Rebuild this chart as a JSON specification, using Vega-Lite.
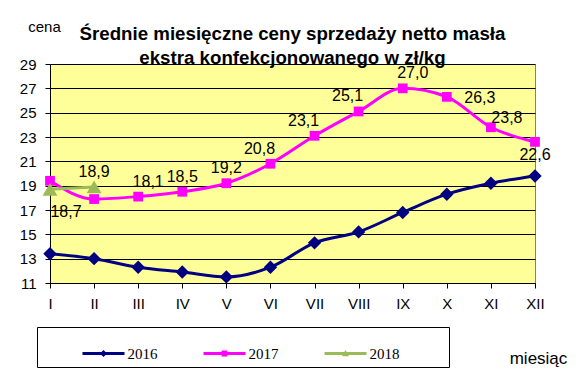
{
  "$schema": "https://vega.github.io/schema/vega-lite/v6.json",
  "width": 485,
  "height": 219,
  "autosize": {"type": "none"},
  "padding": {"left": 50, "top": 64, "right": 45, "bottom": 92},
  "background": "white",
  "title": {
    "text": ["Średnie miesięczne ceny sprzedaży netto masła", "ekstra konfekcjonowanego w zł/kg"],
    "font": "Liberation Sans",
    "fontSize": 18.7,
    "fontWeight": "bold",
    "lineHeight": 24,
    "color": "black",
    "anchor": "middle",
    "frame": "group",
    "offset": 4,
    "dy": 53
  },
  "data": {
    "values": [
      {"month": "I", "year": "2016", "value": 13.4},
      {"month": "II", "year": "2016", "value": 13.0},
      {"month": "III", "year": "2016", "value": 12.3},
      {"month": "IV", "year": "2016", "value": 11.9},
      {"month": "V", "year": "2016", "value": 11.5},
      {"month": "VI", "year": "2016", "value": 12.3},
      {"month": "VII", "year": "2016", "value": 14.3},
      {"month": "VIII", "year": "2016", "value": 15.2},
      {"month": "IX", "year": "2016", "value": 16.8},
      {"month": "X", "year": "2016", "value": 18.3},
      {"month": "XI", "year": "2016", "value": 19.2},
      {"month": "XII", "year": "2016", "value": 19.8},
      {"month": "I", "year": "2017", "value": 19.4},
      {"month": "II", "year": "2017", "value": 17.9},
      {"month": "III", "year": "2017", "value": 18.1},
      {"month": "IV", "year": "2017", "value": 18.5},
      {"month": "V", "year": "2017", "value": 19.2},
      {"month": "VI", "year": "2017", "value": 20.8},
      {"month": "VII", "year": "2017", "value": 23.1},
      {"month": "VIII", "year": "2017", "value": 25.1},
      {"month": "IX", "year": "2017", "value": 27.0},
      {"month": "X", "year": "2017", "value": 26.3},
      {"month": "XI", "year": "2017", "value": 23.8},
      {"month": "XII", "year": "2017", "value": 22.6},
      {"month": "I", "year": "2018", "value": 18.7},
      {"month": "II", "year": "2018", "value": 18.9}
    ]
  },
  "encoding": {
    "x": {
      "field": "month",
      "type": "ordinal",
      "scale": {"type": "point", "padding": 0, "domain": ["I", "II", "III", "IV", "V", "VI", "VII", "VIII", "IX", "X", "XI", "XII"]},
      "axis": {
        "title": "miesiąc",
        "titleFont": "Liberation Sans",
        "titleFontSize": 17,
        "titleFontWeight": "normal",
        "titleColor": "black",
        "titleAngle": 0,
        "titleAlign": "center",
        "titleBaseline": "alphabetic",
        "titleX": 488,
        "titleY": 80,
        "labelAngle": 0,
        "labelFont": "Liberation Sans",
        "labelFontSize": 15,
        "labelColor": "black",
        "labelPadding": 8,
        "tickColor": "black",
        "tickSize": 5,
        "domainColor": "black",
        "grid": false
      }
    },
    "y": {
      "field": "value",
      "type": "quantitative",
      "scale": {"domain": [11, 29], "nice": false, "zero": false},
      "axis": {
        "title": "cena",
        "titleFont": "Liberation Sans",
        "titleFontSize": 15,
        "titleFontWeight": "normal",
        "titleColor": "black",
        "titleAngle": 0,
        "titleAlign": "center",
        "titleBaseline": "alphabetic",
        "titleX": -6,
        "titleY": -33,
        "values": [11, 13, 15, 17, 19, 21, 23, 25, 27, 29],
        "labelFont": "Liberation Sans",
        "labelFontSize": 15,
        "labelColor": "black",
        "labelPadding": 9,
        "tickColor": "black",
        "tickSize": 5,
        "domainColor": "black",
        "grid": true,
        "gridColor": "black",
        "gridOpacity": 1,
        "gridWidth": 1
      }
    }
  },
  "layer": [
    {
      "mark": {"type": "line", "interpolate": "monotone", "strokeWidth": 3},
      "encoding": {
        "color": {
          "field": "year",
          "type": "nominal",
          "scale": {"domain": ["2016", "2017", "2018"], "range": ["#000080", "#FF00FF", "#9BBB59"]},
          "legend": {
            "orient": "none",
            "legendX": -13,
            "legendY": 263,
            "direction": "horizontal",
            "columns": 3,
            "columnPadding": 46,
            "padding": 5.5,
            "strokeColor": "black",
            "fillColor": "white",
            "title": "\u00a0",
            "titleOrient": "left",
            "titlePadding": 40,
            "titleFontSize": 15,
            "symbolSize": 1764,
            "labelOffset": 3,
            "labelFont": "Liberation Serif",
            "labelFontSize": 15,
            "labelColor": "black",
            "labelExpr": "datum.label == '2018' ? datum.label + '\u2800\u2800\u2800\u2800' : datum.label",
            "encode": {
              "symbols": {
                "update": {
                  "shape": {"signal": "datum.value == '2016' ? 'M-1,-0.07H1V0.07H-1Z M0,-0.17L0.17,0L0,0.17L-0.17,0Z' : datum.value == '2017' ? 'M-1,-0.07H1V0.07H-1Z M-0.14,-0.14H0.14V0.14H-0.14Z' : 'M-1,-0.07H1V0.07H-1Z M0,-0.17L0.17,0.13L-0.17,0.13Z'"},
                  "fill": {"scale": "color", "field": "value"},
                  "stroke": {"value": "transparent"},
                  "strokeWidth": {"value": 0},
                  "size": {"value": 1764},
                  "opacity": {"value": 1},
                  "fillOpacity": {"value": 1}
                }
              }
            }
          }
        }
      }
    },
    {
      "transform": [{"filter": "datum.year == '2016'"}],
      "mark": {"type": "point", "filled": true, "opacity": 1, "shape": "diamond", "size": 180, "color": "#000080"},
      "encoding": {}
    },
    {
      "transform": [{"filter": "datum.year == '2017'"}],
      "mark": {"type": "point", "filled": true, "opacity": 1, "shape": "square", "size": 95, "color": "#FF00FF"},
      "encoding": {}
    },
    {
      "transform": [{"filter": "datum.year == '2018'"}],
      "mark": {"type": "point", "filled": true, "opacity": 1, "shape": "triangle-up", "size": 220, "color": "#9BBB59"},
      "encoding": {}
    },
    {
      "transform": [{"filter": "(datum.year == '2018' && datum.month == 'II') || (datum.year == '2017' && indexof(['IV','V'], datum.month) >= 0)"}],
      "mark": {"type": "text", "font": "Liberation Sans", "fontSize": 16, "color": "black", "dy": -15},
      "encoding": {"text": {"field": "value", "type": "quantitative", "format": ".1f"}}
    },
    {
      "transform": [{"filter": "datum.year == '2017' && indexof(['III','IX'], datum.month) >= 0"}],
      "mark": {"type": "text", "font": "Liberation Sans", "fontSize": 16, "color": "black", "dy": -15, "dx": 10},
      "encoding": {"text": {"field": "value", "type": "quantitative", "format": ".1f"}}
    },
    {
      "transform": [{"filter": "datum.year == '2017' && indexof(['VI','VII','VIII'], datum.month) >= 0"}],
      "mark": {"type": "text", "font": "Liberation Sans", "fontSize": 16, "color": "black", "dy": -15, "dx": -11},
      "encoding": {"text": {"field": "value", "type": "quantitative", "format": ".1f"}}
    },
    {
      "transform": [{"filter": "datum.year == '2017' && datum.month == 'X'"}],
      "mark": {"type": "text", "font": "Liberation Sans", "fontSize": 16, "color": "black", "dy": 1, "dx": 33},
      "encoding": {"text": {"field": "value", "type": "quantitative", "format": ".1f"}}
    },
    {
      "transform": [{"filter": "datum.year == '2017' && datum.month == 'XI'"}],
      "mark": {"type": "text", "font": "Liberation Sans", "fontSize": 16, "color": "black", "dy": -9, "dx": 16},
      "encoding": {"text": {"field": "value", "type": "quantitative", "format": ".1f"}}
    },
    {
      "transform": [{"filter": "datum.year == '2017' && datum.month == 'XII'"}],
      "mark": {"type": "text", "font": "Liberation Sans", "fontSize": 16, "color": "black", "dy": 13},
      "encoding": {"text": {"field": "value", "type": "quantitative", "format": ".1f"}}
    },
    {
      "transform": [{"filter": "datum.year == '2018' && datum.month == 'I'"}],
      "mark": {"type": "text", "font": "Liberation Sans", "fontSize": 16, "color": "black", "dy": 23, "dx": 16},
      "encoding": {"text": {"field": "value", "type": "quantitative", "format": ".1f"}}
    }
  ],
  "config": {
    "locale": {"number": {"decimal": ",", "thousands": "\u00a0", "grouping": [3], "currency": ["", " zł"]}},
    "view": {"fill": "#FFFF99", "stroke": "#808080", "strokeWidth": 1}
  }
}
